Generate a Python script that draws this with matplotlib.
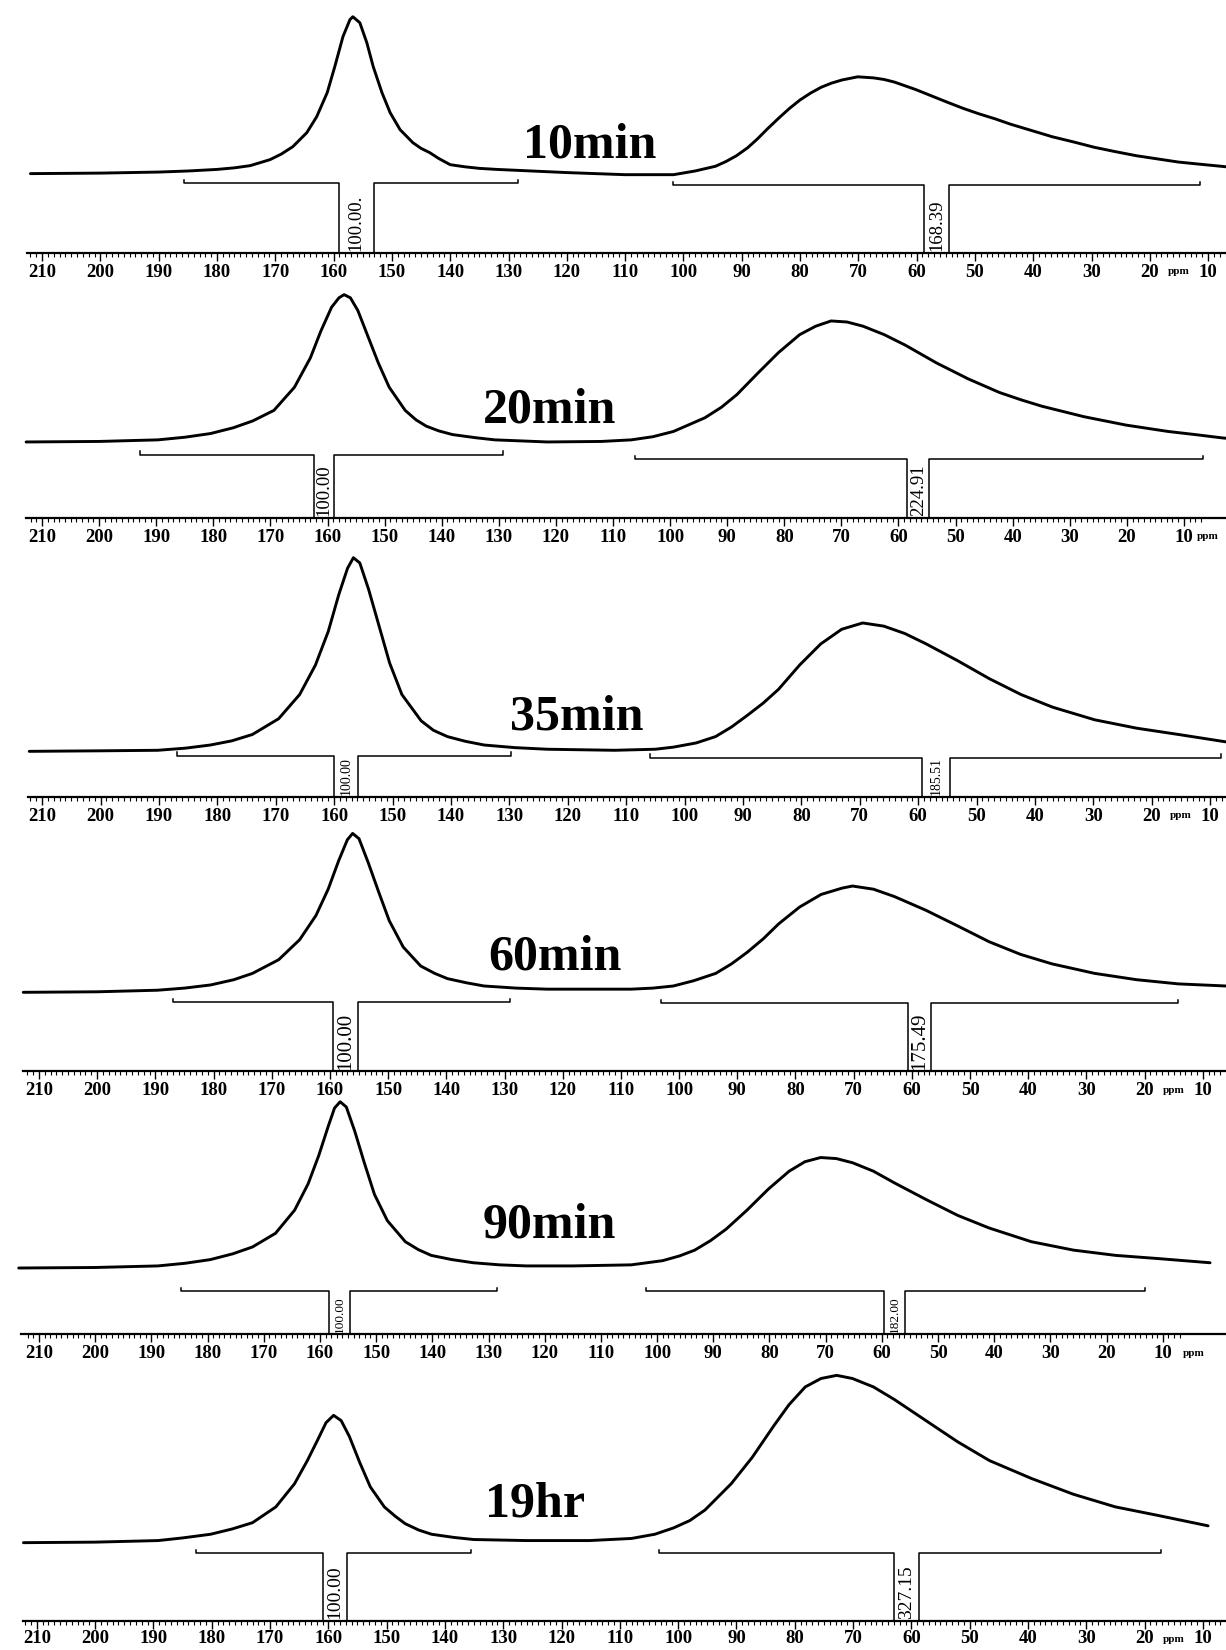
import matplotlib
matplotlib.use("Agg")
import matplotlib.pyplot as plt
import numpy as np
from matplotlib.ticker import FixedLocator

# ---------------- data ----------------
panel_names = ["10min", "20min", "35min", "60min", "90min", "19hr"]
tick_values = [210, 200, 190, 180, 170, 160, 150, 140, 130, 120, 110,
               100, 90, 80, 70, 60, 50, 40, 30, 20, 10]

# chemical shift (ppm) and intensity (arbitrary units above baseline)
ppm_10min = [212, 200, 190, 185, 180, 177, 174.3, 170.9, 169, 167.0,
             164.6, 162.9, 161.1, 159.8, 158.4, 157.2, 156.7, 155.5, 154.3, 153.2,
             151.7, 150.3, 148.6, 146.4, 145, 143.5, 142, 140.0, 137.5, 135,
             132, 128, 120, 110, 101.7, 98, 94.5, 92.7, 90.9, 89,
             87.3, 85.5, 83.6, 81.8, 80.0, 78.2, 76.4, 74.6, 72.8, 70.1,
             67.4, 65.6, 63.8, 60.2, 57.5, 54.8, 52, 49.4, 46.5, 43.9,
             40.3, 36.7, 33, 29.5, 26, 22.3, 18.7, 15.1, 11.5, 7.8, 6.9]
int_10min = [0, 0.5, 1.5, 2.5, 4, 5.5, 7.6, 13.3, 18.5, 25.6,
             38.9, 54.1, 76.9, 101.6, 130.1, 146.3, 149.1, 143.4, 124.4, 101.6,
             76.9, 57.9, 41.8, 29.4, 24, 19.9, 14.5, 8.5, 6.5, 5,
             4, 3, 1, -1, -1, 2.5, 7, 11.5, 17, 24.5,
             33, 43, 53, 62, 70, 76.5, 82, 86, 89, 92,
             91, 89.5, 87, 80, 74, 68, 62, 57, 52, 47,
             41, 35, 30, 25, 21, 17, 14, 11, 9, 7, 6.5]

ppm_20min = [212.8, 200, 189.7, 185, 180.5, 176.5, 173.1, 169.4, 165.8, 163.0,
             161.2, 159.3, 158.0, 157.1, 156.0, 154.7, 152.9, 151.1, 149.2, 146.4,
             144.5, 142.7, 140.5, 138.1, 134, 130.7, 121.5, 112, 106.8, 103,
             99.4, 93.9, 91, 88.3, 84.7, 81.0, 77.3, 74.5, 71.8, 69.0,
             66.2, 62.5, 58.8, 53.3, 47.8, 42.3, 38.5, 34.9, 27.5, 20.1,
             12.8, 8, 3.5, 2.6]
int_20min = [0, 0.5, 2, 4.5, 8, 13.5, 20, 30, 52, 80,
             105, 128, 137, 140, 137, 125, 100, 75, 52, 30,
             21, 15, 10.5, 7, 4, 2, 0, 0.5, 2, 5,
             10, 23, 33, 45, 65, 85, 102, 110, 115, 114,
             110, 102, 92, 75, 60, 47, 40, 34, 24, 16,
             10, 7, 4, 3.5]

ppm_35min = [212.2, 200, 190.2, 185.5, 181.2, 177.5, 174.0, 169.5, 165.9, 163.2,
             161.0, 159.2, 157.7, 156.7, 155.6, 154.1, 152.3, 150.5, 148.4, 145.1,
             143, 140.6, 137.5, 134.3, 129, 123.5, 112, 105, 101.9, 98,
             94.7, 92, 89.3, 86.5, 83.9, 80.3, 76.7, 73.1, 69.5, 65.9,
             62.3, 58.6, 53.2, 47.8, 42.4, 37.0, 29.8, 22.6, 15.4, 7.3, 6.4]
int_35min = [0, 0.5, 1, 3, 6, 10, 16, 31, 54, 82,
             114, 149, 174, 184, 179, 154, 119, 84, 54, 29,
             20, 14, 9.5, 6, 3.5, 2, 1, 2, 4, 8,
             14, 23, 34, 46, 59, 82, 102, 116, 122, 119,
             112, 102, 86, 69, 54, 42, 30, 22, 16, 9, 8.5]

ppm_60min = [212.7, 200, 189.6, 185, 180.5, 176.5, 173.3, 168.8, 165.2, 162.4,
             160.3, 158.5, 157.0, 156.1, 155.0, 153.4, 151.6, 149.8, 147.4, 144.4,
             142, 139.8, 136.5, 133.5, 128, 122.7, 115, 108.2, 104.5, 101.0,
             97.5, 93.7, 91, 88.3, 85.5, 82.9, 79.3, 75.6, 72.0, 70.2,
             66.6, 63.0, 57.6, 52.1, 46.7, 41.3, 35.9, 28.6, 21.4, 14.2, 6.0]
int_60min = [0, 0.5, 2, 4, 7, 12, 18, 31, 50, 73,
             98, 125, 145, 151, 146, 123, 95, 68, 43, 25,
             18, 13, 9, 6, 4, 3, 3, 3, 4, 6,
             11, 18, 27, 38, 51, 65, 81, 93, 99, 101,
             98, 91, 78, 63, 48, 36, 27, 18, 12, 8, 6]

ppm_90min = [213.6, 200, 188.8, 184, 179.5, 175.5, 172.0, 167.9, 164.5, 162.1,
             160.2, 158.5, 157.4, 156.4, 155.3, 153.8, 152.1, 150.3, 148.0, 144.8,
             142.5, 140.2, 136.5, 132.7, 128, 123.3, 115, 104.6, 99.0, 96,
             93.3, 90.5, 87.7, 84.0, 80.2, 76.5, 73.7, 70.9, 68.1, 65.2,
             61.5, 57.8, 52.1, 46.5, 40.9, 33.4, 25.9, 18.4, 10.9, 1.6]
int_90min = [0, 0.5, 2, 4.5, 8, 13.5, 20, 33, 55, 80,
             107, 135, 152, 158, 153, 130, 100, 70, 45, 25,
             17.5, 12, 8, 5, 3, 2, 2, 3, 7, 11.5,
             17, 26, 37, 55, 75, 92, 101, 105, 104, 100,
             92, 81, 65, 50, 38, 25, 17, 12, 9, 5]

ppm_19hr = [212.3, 200, 189.2, 185, 180.2, 176.5, 173.0, 169.0, 165.8, 163.6,
            161.8, 160.4, 159.1, 157.8, 156.4, 154.6, 152.8, 150.4, 148.5, 146.8,
            144.5, 142.3, 138.5, 135.1, 126.1, 115.2, 108.0, 104, 100.8, 98,
            95.4, 90.9, 87.3, 83.6, 81.0, 78.2, 75.5, 72.8, 70.1, 66.5,
            62.9, 57.5, 52.1, 46.6, 39.4, 32.2, 25.0, 17.8, 9.1]
int_19hr = [0, 0.5, 2, 4.5, 8, 13, 19, 34, 56, 78,
            98, 114, 121, 116, 101, 76, 53, 34, 25, 18,
            12, 8, 5, 3, 2, 2, 4, 8, 14, 21,
            31, 56, 81, 111, 131, 148, 156, 159, 156, 148,
            136, 116, 96, 78, 61, 46, 34, 26, 16]

spectra_ppm = [ppm_10min, ppm_20min, ppm_35min, ppm_60min, ppm_90min, ppm_19hr]
spectra_int = [int_10min, int_20min, int_35min, int_60min, int_90min, int_19hr]

# integral regions: (start, label-left, label-right, end) in ppm
integral_c_o = [(185.6, 159.1, 153.1, 128.4), (192.9, 162.4, 158.8, 129.3),
                (186.9, 160.1, 155.9, 129.8), (186.9, 159.4, 155.2, 129.0),
                (184.7, 158.3, 154.6, 128.4), (182.7, 160.9, 156.8, 135.6)]
integral_c_h = [(101.7, 58.7, 54.4, 11.4), (106.2, 58.5, 54.6, 6.7),
                (105.9, 59.4, 54.5, 8.2), (103.1, 60.6, 56.7, 14.2),
                (101.9, 59.6, 55.9, 13.2), (103.3, 62.9, 58.7, 17.2)]
integral_c_o_values = ["100.00.", "100.00", "100.00", "100.00", "100.00", "100.00"]
integral_c_h_values = ["168.39", "224.91", "185.51", "175.49", "182.00", "327.15"]

# ---------------- layout (reference pixel units, 1165 x 1568) ----------------
RW, RH = 1165.0, 1568.0
axis_y = [240, 492, 757, 1018, 1268, 1540]
base_y = [165, 420, 714, 943, 1205, 1466]
intg_y = [(174, 176), (432, 436), (718, 720), (952, 953), (1227, 1227), (1476, 1476)]
x210 = [40, 40, 40, 37, 37, 35]
x10 = [1148, 1125, 1150, 1143, 1105, 1143]
axis_start = [26, 25, 27, 22, 20, 22]
title_xy = [(560, 138), (522, 390), (548, 682), (527, 910), (522, 1165), (508, 1430)]
label_fs = [13.5, 13.5, 10, 15, 9.5, 14]
ppm_text_pos = [15, 5.8, 15, 15, 4.5, 15]
tick_pad = [2, 2, 2, 2, 2, 1]

SERIF = ["Liberation Serif", "DejaVu Serif"]

fig = plt.figure(figsize=(12.26, 16.5), dpi=100)

for i in range(6):
    top = axis_y[i] - 250
    ax = fig.add_axes([0, 1 - axis_y[i] / RH, 1, (axis_y[i] - top) / RH])
    s = (x10[i] - x210[i]) / 200.0
    ppm_at = lambda x: 210 - (x - x210[i]) / s
    ax.set_xlim(ppm_at(0), ppm_at(RW))
    ax.set_ylim(0, axis_y[i] - top)
    off = axis_y[i] - base_y[i]

    # spectrum
    ax.plot(spectra_ppm[i], np.array(spectra_int[i]) + off, color="black",
            lw=2.1, solid_joinstyle="round", solid_capstyle="round", clip_on=False)

    # integral brackets
    for (a, b, c, d), lvl, txt in ((integral_c_o[i], intg_y[i][0], integral_c_o_values[i]),
                                   (integral_c_h[i], intg_y[i][1], integral_c_h_values[i])):
        yl = axis_y[i] - lvl
        ax.plot([a, a, b, b], [yl + 3, yl, yl, 0], color="black", lw=1.1, clip_on=False)
        ax.plot([c, c, d, d], [0, yl, yl, yl + 3], color="black", lw=1.1, clip_on=False)
        ax.text((b + c) / 2.0, 1.5, txt, rotation=90, ha="center", va="bottom",
                fontsize=label_fs[i], family=SERIF)

    # axis
    for sp in ("top", "left", "right"):
        ax.spines[sp].set_visible(False)
    ax.spines["bottom"].set_linewidth(1.6)
    ax.spines["bottom"].set_bounds(ppm_at(axis_start[i]), ppm_at(RW))
    ax.patch.set_alpha(0)
    ax.set_yticks([])
    ax.xaxis.set_major_locator(FixedLocator(tick_values))
    ax.xaxis.set_minor_locator(FixedLocator(np.arange(7, 213, 1)))
    ax.set_xticklabels([str(v) for v in tick_values])
    ax.tick_params(axis="x", which="major", direction="out", length=6, width=1.0,
                   pad=tick_pad[i], labelsize=13.5)
    ax.tick_params(axis="x", which="minor", direction="out", length=3, width=0.8)
    for lab in ax.get_xticklabels():
        lab.set_family(SERIF)
        lab.set_fontweight("bold")
    ax.text(ppm_text_pos[i], -18, "ppm", ha="center", va="center", fontsize=8,
            family=SERIF, fontweight="bold")

    # panel title
    fig.text(title_xy[i][0] / RW, 1 - title_xy[i][1] / RH, panel_names[i],
             ha="center", va="center", fontsize=36, fontweight="bold", family=SERIF)

fig.savefig("out.png", dpi=100)
